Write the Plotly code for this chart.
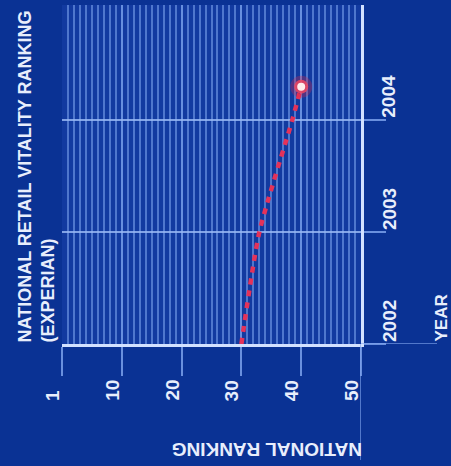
import plotly.graph_objects as go

# National retail vitality ranking (Experian) by year
years = [2002, 2003, 2004, 2004.3]
ranks = [30, 33, 38.5, 40]

rank_ticks = [0, 10, 20, 30, 40, 50]
rank_labels = ["1", "10", "20", "30", "40", "50"]
year_ticks = [2002, 2003, 2004]
year_labels = ["2002", "2003", "2004"]

W, H = 451, 466
L, R, T, B = 62, 90, 5, 122
PW, PH = W - L - R, H - T - B


def px_x(p):
    return (p - L) / PW


def px_y(p):
    return (H - B - p) / PH


BG = "rgb(10,50,148)"
PLOT_BG = "rgb(18,58,160)"
GRID = "rgba(120,160,235,0.6)"
TICK = "rgba(130,168,240,0.8)"
AXIS = "rgb(210,225,255)"
TXT = "rgb(232,238,252)"
RED = "rgb(228,50,90)"
FONT = "Liberation Sans, Arial, sans-serif"

fig = go.Figure()

fig.add_trace(go.Scatter(
    x=ranks, y=years, mode="lines",
    line=dict(color=RED, width=4.5, dash="6px,6px", shape="spline", smoothing=0.6),
    hoverinfo="skip", showlegend=False,
))

# glowing end marker
for size, col in [(22, "rgba(230,40,70,0.3)"), (14, "rgba(240,70,95,0.85)"), (8, "rgb(255,236,236)")]:
    fig.add_trace(go.Scatter(
        x=[ranks[-1]], y=[years[-1]], mode="markers",
        marker=dict(size=size, color=col, line=dict(width=0)),
        hoverinfo="skip", showlegend=False,
    ))

fig.update_xaxes(
    range=[0, 50], tickvals=rank_ticks, showticklabels=False,
    ticks="outside", ticklen=29, tickwidth=1.5, tickcolor=TICK,
    showgrid=True, gridcolor=GRID, gridwidth=1.5,
    minor=dict(dtick=1, showgrid=True, gridcolor=GRID, gridwidth=1.5, ticks=""),
    showline=True, linecolor=AXIS, linewidth=3,
    zeroline=False, fixedrange=True,
)
fig.update_yaxes(
    range=[2002, 2005.03], tickvals=year_ticks, showticklabels=False, side="right",
    ticks="outside", ticklen=22, tickwidth=1.5, tickcolor=TICK,
    showgrid=True, gridcolor="rgba(150,182,242,0.85)", gridwidth=1.5,
    showline=True, linecolor=AXIS, linewidth=3,
    zeroline=False, fixedrange=True,
)

# extended guide lines toward the axis titles
fig.add_shape(type="line", xref="x", yref="paper", x0=50, x1=50, y0=0, y1=px_y(460),
              line=dict(color=TICK, width=1.5))
fig.add_shape(type="line", xref="paper", yref="y", x0=1, x1=px_x(437), y0=2002, y1=2002,
              line=dict(color=TICK, width=1.5))

# rank labels below the axis
for v, t in zip(rank_ticks, rank_labels):
    fig.add_annotation(x=v, y=px_y(403), xref="x", yref="paper", text=t,
                       textangle=-90, xanchor="right", yanchor="bottom", xshift=3,
                       showarrow=False, font=dict(family=FONT, size=19, color=TXT, weight="bold"))

# year labels to the right
for v, t in zip(year_ticks, year_labels):
    fig.add_annotation(x=px_x(389), y=v, xref="paper", yref="y", text=t,
                       textangle=-90, xanchor="center", yanchor="bottom",
                       showarrow=False, font=dict(family=FONT, size=19, color=TXT, weight="bold"))

fig.add_annotation(x=px_x(441), y=2002, xref="paper", yref="y", text="YEAR",
                   textangle=-90, xanchor="center", yanchor="bottom",
                   showarrow=False, font=dict(family=FONT, size=17, color=TXT, weight="bold"))

fig.add_annotation(x=px_x(364), y=px_y(450), xref="paper", yref="paper", text="NATIONAL RANKING",
                   textangle=180, xanchor="right", yanchor="middle",
                   showarrow=False, font=dict(family=FONT, size=19, color=TXT, weight="bold"))

fig.add_annotation(x=px_x(12), y=px_y(345), xref="paper", yref="paper",
                   text="NATIONAL RETAIL VITALITY RANKING<br>(EXPERIAN)",
                   textangle=-90, xanchor="left", yanchor="bottom", align="left",
                   showarrow=False, font=dict(family=FONT, size=18, color=TXT, weight="bold"))

fig.update_layout(
    width=W, height=H,
    margin=dict(l=L, r=R, t=T, b=B),
    paper_bgcolor=BG, plot_bgcolor=PLOT_BG,
    showlegend=False,
)

fig.write_html("out.html", config={"displayModeBar": False})
